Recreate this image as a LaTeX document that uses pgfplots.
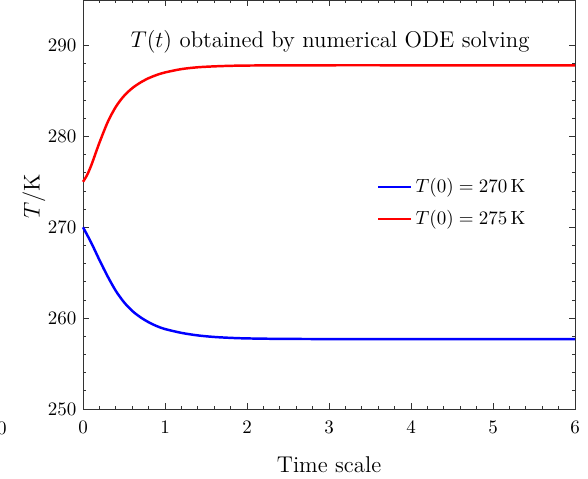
\documentclass[border=0pt]{standalone}
\usepackage{pgfplots}
\pgfplotsset{compat=1.18}
\pgfplotstableread{
t T
0 270.0
0.1 268.3
0.2 266.4
0.3 264.6
0.4 263.0
0.5 261.75
0.6 260.8
0.7 260.1
0.8 259.55
0.9 259.12
1.0 258.8
1.2 258.38
1.4 258.1
1.6 257.93
1.8 257.83
2.0 257.77
2.4 257.72
3 257.7
4 257.7
5 257.7
6 257.7
}\blue
\pgfplotstableread{
t T
0 275.0
0.05 275.75
0.1 276.8
0.15 278.05
0.2 279.3
0.3 281.55
0.4 283.25
0.5 284.45
0.6 285.3
0.7 285.92
0.8 286.4
0.9 286.76
1.0 287.03
1.2 287.4
1.4 287.6
1.6 287.7
1.8 287.76
2.0 287.79
2.4 287.81
3 287.82
4 287.82
5 287.82
6 287.82
}\red
\begin{document}
\begin{tikzpicture}
\begin{axis}[
  scale only axis,
  width=259pt, height=215.3pt,
  xmin=0, xmax=6, ymin=250, ymax=295,
  xtick={0,1,2,3,4,5,6},
  ytick={250,260,270,280,290},
  minor x tick num=4,
  minor y tick num=4,
  tick align=inside,
  major tick length=3pt,
  minor tick length=1.8pt,
  axis line style={line width=0.5pt, black!80},
  tick style={line width=0.4pt, black!80},
  xticklabel style={yshift=-3pt},
  xlabel={Time scale},
  ylabel={$T/\mathrm{K}$},
  xlabel style={at={(axis description cs:0.5,0)}, anchor=center, yshift=-29.5pt, font=\large},
  ylabel style={at={(axis description cs:-0.1,0.52)}, anchor=center, font=\large},
  legend style={draw=none, fill=none, at={(axis description cs:0.585,0.504)}, anchor=west, row sep=4pt, font=\normalsize},
  legend cell align=left,
  clip=false,
]
\addplot[blue, line width=1.3pt, smooth] table[x=t, y=T] {\blue};
\addlegendentry{$T(0) = 270\,\mathrm{K}$}
\addplot[red, line width=1.3pt, smooth] table[x=t, y=T] {\red};
\addlegendentry{$T(0) = 275\,\mathrm{K}$}
\node[font=\large] at (axis description cs:0.502,0.897) {$T(t)$ obtained by numerical ODE solving};
\node[anchor=north, yshift=-3pt, inner sep=0.333em] at (axis cs:-0.99,250) {0};
\coordinate (sw) at (rel axis cs:0,0);
\coordinate (ne) at (rel axis cs:1,1);
\end{axis}
\pgfresetboundingbox
\path ([shift={(-43.7pt,-36.8pt)}]sw) rectangle ([shift={(6.8pt,0pt)}]ne);
\end{tikzpicture}
\end{document}
